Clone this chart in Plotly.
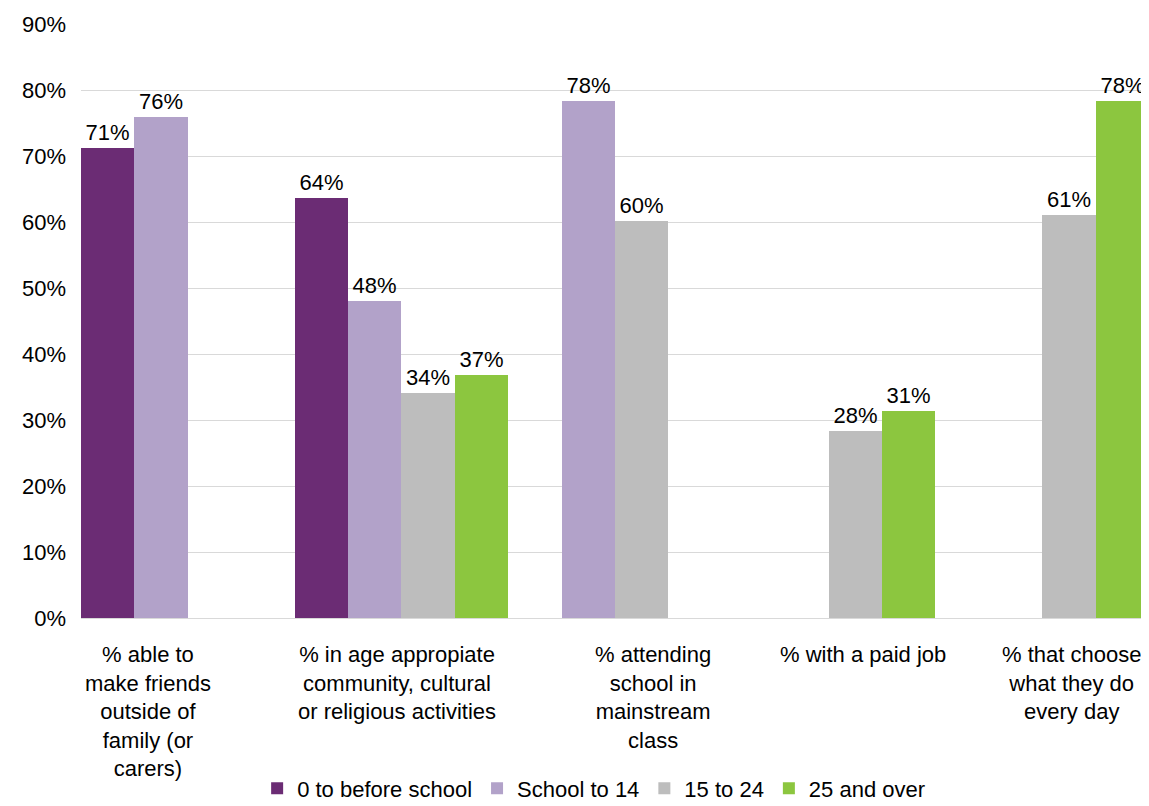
import plotly.graph_objects as go

categories = ["friends", "community", "school", "job", "choose"]
category_labels = [
    "% able to<br>make friends<br>outside of<br>family (or<br>carers)",
    "% in age appropiate<br>community, cultural<br>or religious activities",
    "% attending<br>school in<br>mainstream<br>class",
    "% with a paid job",
    "% that choose<br>what they do<br>every day",
]
label_shifts = [-40, -4, 38, 34, 29]

series_names = ["0 to before school", "School to 14", "15 to 24", "25 and over"]
v_before_school = [71.2, 63.6, None, None, None]
v_school_to_14 = [75.9, 48.0, 78.3, None, None]
v_15_to_24 = [None, 34.1, 60.2, 28.3, 61.1]
v_25_over = [None, 36.8, None, 31.4, 78.4]
series_values = [v_before_school, v_school_to_14, v_15_to_24, v_25_over]
colors = ["#6B2C74", "#B2A2C9", "#BDBDBD", "#8CC63F"]

y_ticks = [0, 10, 20, 30, 40, 50, 60, 70, 80, 90]
y_tick_labels = [f"{v}%" for v in y_ticks]

FONT = "Liberation Sans, Arial, sans-serif"
FS = 22

fig = go.Figure()
for name, vals, col in zip(series_names, series_values, colors):
    fig.add_trace(go.Bar(
        x=categories, y=vals, name=name,
        marker=dict(color=col, line=dict(width=0)),
        texttemplate="%{y:.0f}%", textposition="outside",
        textfont=dict(family=FONT, size=FS, color="#000000"),
        cliponaxis=False,
    ))

for cat, lab, sh in zip(categories, category_labels, label_shifts):
    fig.add_annotation(
        x=cat, xref="x", y=0, yref="paper", yanchor="top", yshift=-22,
        xshift=sh, text=lab, showarrow=False, align="center",
        font=dict(family=FONT, size=FS, color="#000000"),
    )

fig.update_layout(
    width=1141, height=798,
    margin=dict(l=73, r=0, t=16, b=188),
    paper_bgcolor="white", plot_bgcolor="white",
    barmode="group", bargap=0, bargroupgap=0,
    font=dict(family=FONT, size=FS, color="#000000"),
    showlegend=True,
    legend=dict(
        orientation="h", x=0.48, xanchor="center",
        yref="container", y=0.022, yanchor="middle",
        font=dict(family=FONT, size=FS, color="#000000"),
        itemwidth=30, traceorder="normal",
    ),
    uniformtext=dict(minsize=FS, mode="show"),
)
fig.update_xaxes(
    showticklabels=False, showgrid=False, zeroline=False,
    showline=False, ticks="",
)
fig.update_yaxes(
    range=[0, 90], tickmode="array", tickvals=y_ticks, ticktext=y_tick_labels,
    showgrid=True, gridcolor="#D9D9D9", gridwidth=1,
    zeroline=True, zerolinecolor="#D9D9D9", zerolinewidth=1,
    showline=False, ticks="", ticklabelstandoff=14,
    tickfont=dict(family=FONT, size=FS, color="#000000"),
)

fig.write_html("out.html")
